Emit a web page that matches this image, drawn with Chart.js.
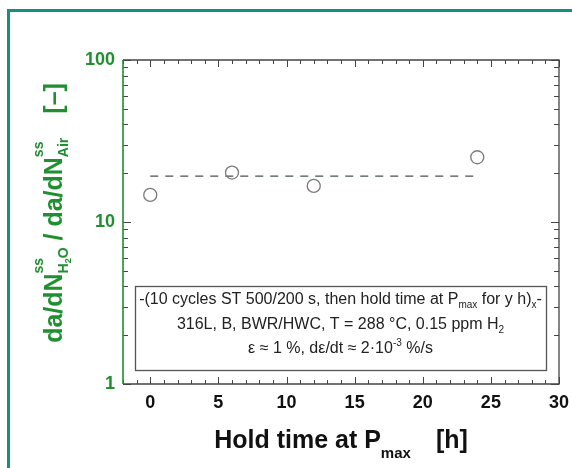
<!doctype html>
<html>

<head>
    <title>Hold time at Pmax</title>
    <script src="https://cdn.jsdelivr.net/npm/chart.js@4/dist/chart.umd.min.js"></script>
    <style>
    body { margin: 0; background: #fff; }
    canvas { display: block; }
    </style>
</head>

<body>
    <canvas id="myChart" width="572" height="468"></canvas>
    <script>
    // data
    var holdTime = [0, 6, 12, 24];
    var rateRatio = [14.7, 20.2, 16.7, 25.1];
    var meanX = [0, 24];
    var meanY = [19.2, 19.2];
    var xTicks = [0, 5, 10, 15, 20, 25, 30];
    var yTicks = [1, 10, 100];

    var FONT = '"Liberation Sans", Arial, sans-serif';
    var GREEN = '#1f8f2f';
    var TEAL = '#12917f';
    var AXIS = '#444';

    // rich text: {t, s, dy} or {w} gap or {up:[..], dn:[..]} stacked sup/sub
    function segWidth(ctx, seg, bold) {
        if (seg.w) return seg.w;
        if (seg.up) return Math.max(sumWidth(ctx, seg.up, bold), sumWidth(ctx, seg.dn, bold));
        ctx.font = (bold ? 'bold ' : '') + seg.s + 'px ' + FONT;
        return ctx.measureText(seg.t).width;
    }
    function sumWidth(ctx, segs, bold) {
        var w = 0;
        segs.forEach(function(s) { w += segWidth(ctx, s, bold); });
        return w;
    }
    function drawSegs(ctx, segs, x, y, bold) {
        segs.forEach(function(seg) {
            if (seg.up) {
                drawSegs(ctx, seg.up, x, y, bold);
                drawSegs(ctx, seg.dn, x, y, bold);
            } else if (seg.t) {
                ctx.font = (bold ? 'bold ' : '') + seg.s + 'px ' + FONT;
                ctx.fillText(seg.t, x, y + (seg.dy || 0));
            }
            x += segWidth(ctx, seg, bold);
        });
    }
    function drawCentered(ctx, segs, cx, y, bold) {
        drawSegs(ctx, segs, cx - sumWidth(ctx, segs, bold) / 2, y, bold);
    }

    var yTitle = [
        {t: 'da/dN', s: 25},
        {up: [{t: 'ss', s: 14, dy: -19}], dn: [{t: 'H', s: 14, dy: 6}, {t: '2', s: 9, dy: 9}, {t: 'O', s: 14, dy: 6}]},
        {t: ' / da/dN', s: 25},
        {up: [{t: 'ss', s: 14, dy: -19}], dn: [{t: 'Air', s: 14, dy: 6}]},
        {w: 24},
        {t: '[\u2013]', s: 25}
    ];
    var xTitle = [
        {t: 'Hold time at P', s: 25},
        {t: 'max', s: 15, dy: 10},
        {w: 25},
        {t: '[h]', s: 25}
    ];
    var boxLines = [
        [{t: '-(10 cycles ST 500/200 s, then hold time at P', s: 16}, {t: 'max', s: 10, dy: 4},
         {t: ' for y h)', s: 16}, {t: 'x', s: 10, dy: 4}, {t: '-', s: 16}],
        [{t: '316L, B, BWR/HWC, T = 288 \u00b0C, 0.15 ppm H', s: 16}, {t: '2', s: 10, dy: 4}],
        [{t: '\u03b5 \u2248 1 %, d\u03b5/dt \u2248 2\u00b710', s: 16}, {t: '-3', s: 10, dy: -7}, {t: ' %/s', s: 16}]
    ];

    var decor = {
        id: 'decor',
        beforeDraw: function(chart) {
            var ctx = chart.ctx;
            ctx.save();
            ctx.fillStyle = '#fff';
            ctx.fillRect(0, 0, chart.width, chart.height);
            ctx.fillStyle = TEAL;
            ctx.fillRect(7, 9, 3, chart.height - 9);
            ctx.fillRect(7, 9, chart.width - 7, 3);
            ctx.restore();
        },
        afterDraw: function(chart) {
            var ctx = chart.ctx, a = chart.chartArea;
            var xs = chart.scales.x, ys = chart.scales.y;
            ctx.save();
            // ticks inside the frame
            ctx.strokeStyle = AXIS;
            ctx.lineWidth = 1;
            ctx.beginPath();
            for (var v = xs.min; v <= xs.max; v++) {
                var px = Math.round(xs.getPixelForValue(v)) + 0.5;
                var len = v % 5 === 0 ? 7 : 4;
                ctx.moveTo(px, a.bottom); ctx.lineTo(px, a.bottom - len);
                ctx.moveTo(px, a.top); ctx.lineTo(px, a.top + len);
            }
            for (var d = 1; d < 100; d *= 10) {
                for (var m = 1; m <= 10; m++) {
                    var py = Math.round(ys.getPixelForValue(d * m)) + 0.5;
                    var l = (m === 1 || m === 10) ? 8 : 5;
                    ctx.moveTo(a.left, py); ctx.lineTo(a.left + l, py);
                    ctx.moveTo(a.right, py); ctx.lineTo(a.right - l, py);
                }
            }
            ctx.stroke();
            // frame
            ctx.lineWidth = 1.3;
            ctx.beginPath();
            ctx.moveTo(a.left, a.top); ctx.lineTo(a.right, a.top);
            ctx.lineTo(a.right, a.bottom); ctx.lineTo(a.left, a.bottom);
            ctx.stroke();
            ctx.strokeStyle = GREEN;
            ctx.lineWidth = 1.6;
            ctx.beginPath();
            ctx.moveTo(a.left, a.top); ctx.lineTo(a.left, a.bottom);
            ctx.stroke();

            // annotation box
            ctx.strokeStyle = '#555';
            ctx.lineWidth = 1.3;
            ctx.strokeRect(135.5, 286.5, 411, 84);
            ctx.fillStyle = '#222';
            ctx.textBaseline = 'alphabetic';
            ctx.textAlign = 'left';
            drawCentered(ctx, boxLines[0], 340.5, 304, false);
            drawCentered(ctx, boxLines[1], 340.5, 329, false);
            drawCentered(ctx, boxLines[2], 340.5, 353, false);

            // axis titles
            ctx.fillStyle = '#111';
            drawCentered(ctx, xTitle, (a.left + a.right) / 2, 448, true);
            ctx.translate(62, 213);
            ctx.rotate(-Math.PI / 2);
            ctx.fillStyle = GREEN;
            drawCentered(ctx, yTitle, 0, 0, true);
            ctx.restore();
        }
    };

    function drawGraph() {
        var ctx = document.getElementById('myChart').getContext('2d');
        var points = holdTime.map(function(x, i) { return {x: x, y: rateRatio[i]}; });
        var mean = meanX.map(function(x, i) { return {x: x, y: meanY[i]}; });
        new Chart(ctx, {
            type: 'scatter',
            data: {
                datasets: [{
                    data: points,
                    pointStyle: 'circle',
                    pointRadius: 6.5,
                    borderColor: '#7a7a7a',
                    borderWidth: 1.3,
                    backgroundColor: 'rgba(255,255,255,0)'
                }, {
                    type: 'line',
                    data: mean,
                    showLine: true,
                    pointRadius: 0,
                    borderColor: '#46524a',
                    borderWidth: 1.4,
                    borderDash: [8, 7],
                    fill: false
                }]
            },
            options: {
                responsive: false,
                animation: false,
                layout: { padding: { left: 0, top: 60, right: 0, bottom: 0 } },
                plugins: { legend: { display: false }, tooltip: { enabled: false } },
                scales: {
                    x: {
                        type: 'linear', min: -2, max: 30,
                        grid: { display: false, drawTicks: false },
                        border: { display: false },
                        afterBuildTicks: function(s) { s.ticks = xTicks.map(function(v) { return {value: v}; }); },
                        afterFit: function(s) { s.height = 84; s.paddingRight = 13; s.paddingLeft = 0; },
                        ticks: { padding: 8, color: '#111', maxRotation: 0, autoSkip: false,
                                 font: { family: FONT, size: 18, weight: 'bold' } }
                    },
                    y: {
                        type: 'logarithmic', min: 1, max: 100,
                        grid: { display: false, drawTicks: false },
                        border: { display: false },
                        afterBuildTicks: function(s) { s.ticks = yTicks.map(function(v) { return {value: v}; }); },
                        afterFit: function(s) { s.width = 123; },
                        ticks: { padding: 8, color: GREEN, autoSkip: false,
                                 font: { family: FONT, size: 18, weight: 'bold' },
                                 callback: function(v) { return String(v); } }
                    }
                }
            },
            plugins: [decor]
        });
    }

    window.onload = function() {
        drawGraph();
    };
    </script>
</body>

</html>
